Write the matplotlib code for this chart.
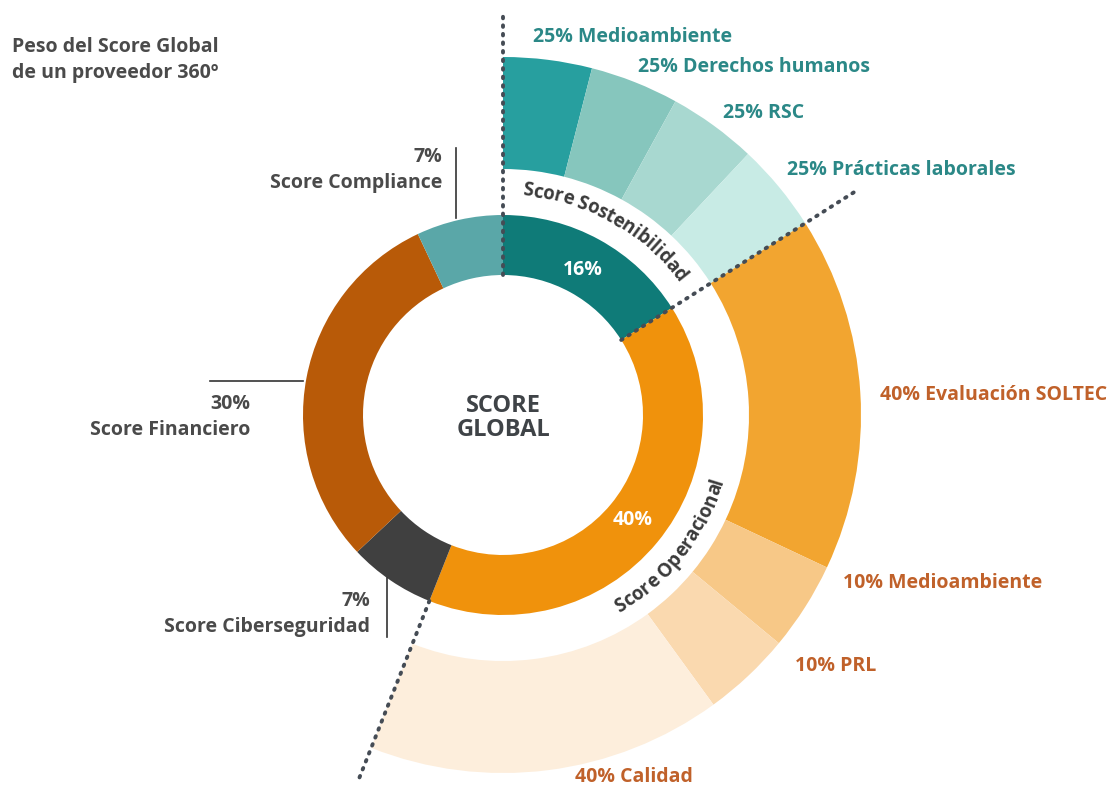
import numpy as np
import matplotlib
matplotlib.use("Agg")
import matplotlib.pyplot as plt
from matplotlib.font_manager import FontProperties
from matplotlib.textpath import text_to_path

FONT = 'Open Sans'
plt.rcParams['font.family'] = [FONT, 'DejaVu Sans']
plt.rcParams['font.weight'] = 'bold'

# datos del score global (anillo interior), empezando arriba y en sentido horario
score_names = ['Sostenibilidad', 'Operacional', 'Ciberseguridad', 'Financiero', 'Compliance']
score_pct = [16, 40, 7, 30, 7]
score_colors = ['#0f7b78', '#f0920c', '#404040', '#b85a08', '#5aa7a8']

# desglose de sostenibilidad (anillo exterior)
sost_names = ['Medioambiente', 'Derechos humanos', 'RSC', 'Prácticas laborales']
sost_pct = [25, 25, 25, 25]
sost_colors = ['#279f9f', '#86c6bd', '#a8d8d0', '#c8ebe5']

# desglose operacional (anillo exterior)
oper_names = ['Evaluación SOLTEC', 'Medioambiente', 'PRL', 'Calidad']
oper_pct = [40, 10, 10, 40]
oper_colors = ['#f2a530', '#f7c887', '#fad9af', '#fdeedc']

W, H = 1117, 788
cx, cy = 503, H - 415
teal = '#2b8887'
brown = '#c0612a'
gray = '#4a4a4a'
FS = 14

fig = plt.figure(figsize=(W / 100, H / 100), dpi=100)
ax = fig.add_axes([0, 0, 1, 1])

# anillo interior
ax.pie(score_pct, radius=200, startangle=90, counterclock=False, center=(cx, cy),
       colors=score_colors, wedgeprops=dict(width=60, edgecolor='none', linewidth=0))

# anillo exterior: sub-scores de sostenibilidad y operacional, resto vacio
outer_vals = [score_pct[0] * p / 100 for p in sost_pct] + [score_pct[1] * p / 100 for p in oper_pct]
outer_vals.append(100 - sum(outer_vals))
outer_cols = sost_colors + oper_colors + ['none']
ax.pie(outer_vals, radius=358, startangle=90, counterclock=False, center=(cx, cy),
       colors=outer_cols, wedgeprops=dict(width=112, edgecolor='none', linewidth=0))

ax.set_xlim(0, W)
ax.set_ylim(0, H)
ax.set_aspect('equal')
ax.set_axis_off()


def pol(r, deg_from_north):
    a = np.radians(90 - deg_from_north)
    return cx + r * np.cos(a), cy + r * np.sin(a)


# lineas punteadas en los limites de sostenibilidad / operacional
cum = np.cumsum([0] + score_pct) * 3.6
for ang, r0, r1 in [(cum[0], 140, 405), (cum[1], 140, 420), (cum[2], 200, 395)]:
    x0, y0 = pol(r0, ang)
    x1, y1 = pol(r1, ang)
    ax.plot([x0, x1], [y0, y1], color='#454c55', lw=2.8, linestyle=(0, (0.4, 1.8)),
            dash_capstyle='round', zorder=5)

# texto curvado
def curved(text, r, mid, clockwise, size, color):
    fp = FontProperties(family=FONT, weight='bold', size=size)
    k = 100 / 72
    ref = text_to_path.get_text_width_height_descent('l', fp, ismath=False)[0]
    pos = [0.0]
    for i in range(1, len(text) + 1):
        w = text_to_path.get_text_width_height_descent(text[:i] + 'l', fp, ismath=False)[0] - ref
        pos.append(w * k)
    total = pos[-1]
    xh = size * k * 0.5
    for i, ch in enumerate(text):
        if ch == ' ':
            continue
        s = (pos[i] + pos[i + 1]) / 2 - total / 2
        d = np.degrees(s / r)
        if clockwise:
            ang = mid + d
            x, y = pol(r - xh / 2, ang)
            rot = (90 - ang) - 90
        else:
            ang = mid - d
            x, y = pol(r + xh / 2, ang)
            rot = (90 - ang) + 90
        ax.text(x, y, ch, fontproperties=fp, color=color, rotation=rot,
                rotation_mode='anchor', ha='center', va='baseline')


curved('Score Sostenibilidad', 225, 29, True, 13.5, '#3a3a3a')
curved('Score Operacional', 225, 128, False, 13.5, '#3a3a3a')

# centro
ax.text(cx, H - 418, 'SCORE\nGLOBAL', ha='center', va='center', fontsize=17,
        color='#3f4347', linespacing=1.05)
ax.text(583, H - 270, f'{score_pct[0]}%', ha='center', va='center', fontsize=FS, color='white')
ax.text(633, H - 520, f'{score_pct[1]}%', ha='center', va='center', fontsize=FS, color='white')

# titulo
ax.text(12, H - 47, 'Peso del Score Global', ha='left', va='center', fontsize=FS, color=gray)
ax.text(12, H - 73, 'de un proveedor 360º', ha='left', va='center', fontsize=FS, color=gray)

# etiquetas exteriores
sost_pos = [(533, 37), (638, 67), (723, 113), (787, 170)]
for (x, y), p, n in zip(sost_pos, sost_pct, sost_names):
    ax.text(x, H - y, f'{p}% {n}', ha='left', va='center', fontsize=FS, color=teal)
oper_pos = [(880, 395), (843, 583), (795, 666), (575, 777)]
for (x, y), p, n in zip(oper_pos, oper_pct, oper_names):
    ax.text(x, H - y, f'{p}% {n}', ha='left', va='center', fontsize=FS, color=brown)

# etiquetas izquierda con lineas guia
left_pos = {'Compliance': (442, 157), 'Financiero': (250, 404), 'Ciberseguridad': (370, 601)}
for n, (x, y) in left_pos.items():
    p = score_pct[score_names.index(n)]
    ax.text(x, H - y, f'{p}%', ha='right', va='center', fontsize=FS, color=gray)
    ax.text(x, H - y - 26, f'Score {n}', ha='right', va='center', fontsize=FS, color=gray)
ax.plot([456, 456], [H - 148, H - 218], color='#333333', lw=1.2)
ax.plot([210, 303], [H - 381, H - 381], color='#333333', lw=1.2)
ax.plot([387, 387], [H - 578, H - 637], color='#333333', lw=1.2)

fig.savefig('out.png', dpi=100, facecolor='white')
